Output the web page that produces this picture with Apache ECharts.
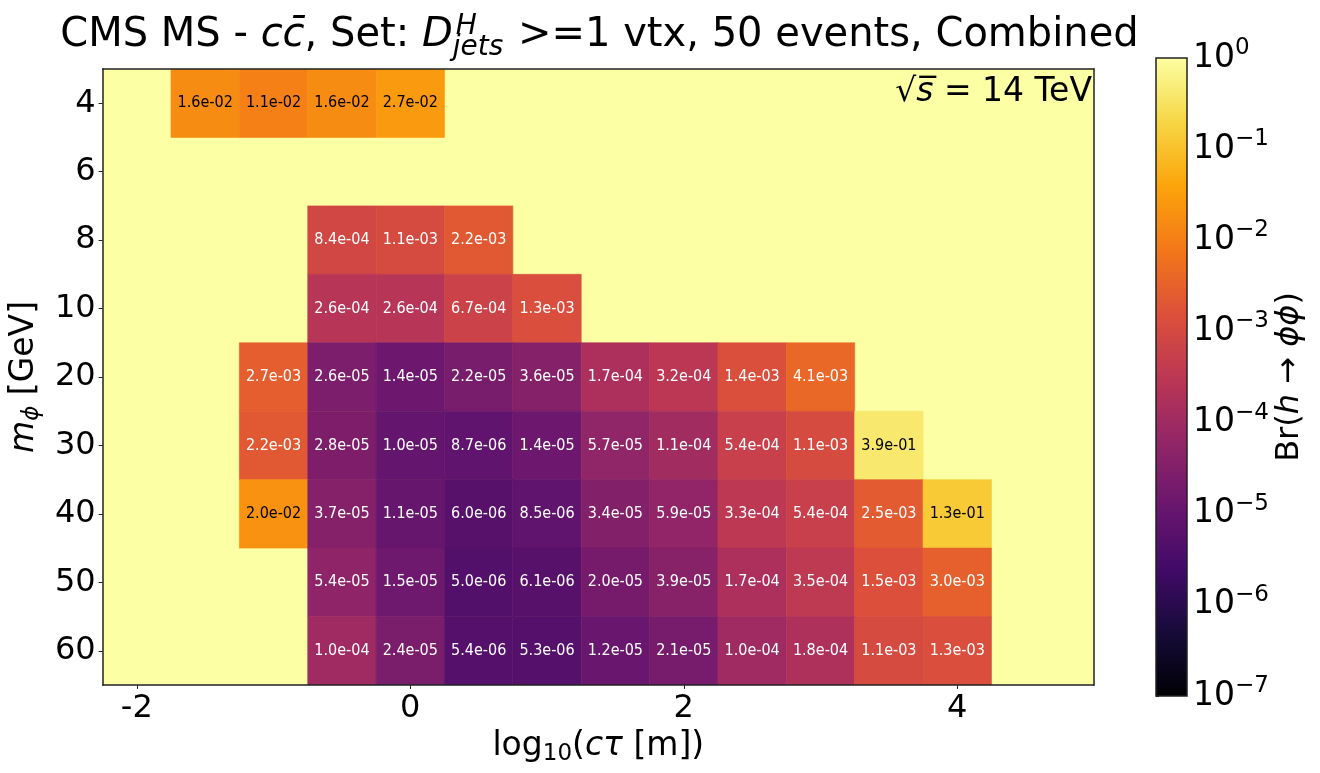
<!DOCTYPE html>
<html><head><meta charset="utf-8">
<script src="https://cdn.jsdelivr.net/npm/echarts@6/dist/echarts.min.js"></script>
<style>html,body{margin:0;padding:0;background:#fff}#c{width:1320px;height:773px}</style>
</head><body><div id="c"></div>
<script>
// ---- data ----
const massLabels = ['4','6','8','10','20','30','40','50','60'];
const ctauCenters = [-1.5,-1.0,-0.5,0,0.5,1.0,1.5,2.0,2.5,3.0,3.5,4.0];
const xTickValues = [-2,0,2,4];
const cbarExponents = [-7,-6,-5,-4,-3,-2,-1,0];
const br_m4  = [1.6e-2,1.1e-2,1.6e-2,2.7e-2,null,null,null,null,null,null,null,null];
const br_m6  = [null,null,null,null,null,null,null,null,null,null,null,null];
const br_m8  = [null,null,8.4e-4,1.1e-3,2.2e-3,null,null,null,null,null,null,null];
const br_m10 = [null,null,2.6e-4,2.6e-4,6.7e-4,1.3e-3,null,null,null,null,null,null];
const br_m20 = [null,2.7e-3,2.6e-5,1.4e-5,2.2e-5,3.6e-5,1.7e-4,3.2e-4,1.4e-3,4.1e-3,null,null];
const br_m30 = [null,2.2e-3,2.8e-5,1.0e-5,8.7e-6,1.4e-5,5.7e-5,1.1e-4,5.4e-4,1.1e-3,3.9e-1,null];
const br_m40 = [null,2.0e-2,3.7e-5,1.1e-5,6.0e-6,8.5e-6,3.4e-5,5.9e-5,3.3e-4,5.4e-4,2.5e-3,1.3e-1];
const br_m50 = [null,null,5.4e-5,1.5e-5,5.0e-6,6.1e-6,2.0e-5,3.9e-5,1.7e-4,3.5e-4,1.5e-3,3.0e-3];
const br_m60 = [null,null,1.0e-4,2.4e-5,5.4e-6,5.3e-6,1.2e-5,2.1e-5,1.0e-4,1.8e-4,1.1e-3,1.3e-3];
const brRows = [br_m4,br_m6,br_m8,br_m10,br_m20,br_m30,br_m40,br_m50,br_m60];

const inferno = ['#000004','#160b39','#420a68','#6a176e','#932667','#bc3754','#dd513a','#f37819','#fca50a','#f6d746','#fcffa4'];

const heatData = [];
brRows.forEach((row, yi) => row.forEach((v, xi) => {
  if (v != null) heatData.push([ctauCenters[xi], yi, Math.log10(v), v]);
}));

function fmt(v){
  let e = Math.floor(Math.log10(v) + 1e-9);
  let ms = (v / Math.pow(10, e)).toFixed(1);
  if (ms === '10.0') { ms = '1.0'; e++; }
  return ms + 'e' + (e < 0 ? '-' : '+') + String(Math.abs(e)).padStart(2, '0');
}

const FF = '"DejaVu Sans"';
const chart = echarts.init(document.getElementById('c'));

// text measurement for title layout
const mctx = document.createElement('canvas').getContext('2d');
function tw(t, size, it){ mctx.font = (it ? 'italic ' : '') + size + 'px ' + FF; return mctx.measureText(t).width; }

const TS = 40, SS = 28, titleY = 36;
const seg1 = [['CMS MS - ', false], ['cc\u0304', true], [', Set: ', false], ['D', true]];
const seg2 = ' >=1 vtx, 50 events, Combined';
const w1 = seg1.reduce((a, s) => a + tw(s[0], TS, s[1]), 0);
const wStack = Math.max(tw('H', SS, true) + 3, tw('jets', SS, true)) + 2;
const w2 = tw(seg2, TS, false);
const titleX0 = 599.5 - (w1 + wStack + w2) / 2;
const titleEls = [];
let cx = titleX0;
seg1.forEach(s => {
  titleEls.push({type:'text', x:cx, y:titleY, style:{text:s[0], font:(s[1]?'italic ':'') + TS + 'px ' + FF, fill:'#000', align:'left', verticalAlign:'middle'}});
  cx += tw(s[0], TS, s[1]);
});
titleEls.push({type:'text', x:cx + 3, y:titleY - 9, style:{text:'H', font:'italic ' + SS + 'px ' + FF, fill:'#000', align:'left', verticalAlign:'middle'}});
titleEls.push({type:'text', x:cx, y:titleY + 12, style:{text:'jets', font:'italic ' + SS + 'px ' + FF, fill:'#000', align:'left', verticalAlign:'middle'}});
cx += wStack;
titleEls.push({type:'text', x:cx, y:titleY, style:{text:seg2, font:TS + 'px ' + FF, fill:'#000', align:'left', verticalAlign:'middle'}});

titleEls.push({type:'text', x:1092, y:92, style:{
  text:'{n|\u221a}{i|s\u0305}{n| = 14 TeV}', align:'right', verticalAlign:'middle',
  rich:{n:{fontFamily:FF, fontSize:33, fill:'#000'}, i:{fontFamily:FF, fontSize:33, fontStyle:'italic', fill:'#000'}}
}});

const axisLineStyle = {color:'#222', width:1.5};

function renderHeat(params, api){
  const x = api.value(0), yi = api.value(1), lv = api.value(2), v = api.value(3);
  const a = api.coord([x - 0.25, yi]);
  const b = api.coord([x + 0.25, yi]);
  const h = api.size([1, 1], [x, yi])[1];
  const color = api.visual('color');
  const t = (lv + 7) / 7;
  return {type:'group', children:[
    {type:'rect', shape:{x:a[0], y:a[1] - h/2, width:b[0] - a[0], height:h}, style:{fill:color, stroke:color, lineWidth:0.6}},
    {type:'text', x:(a[0] + b[0]) / 2, y:a[1], z2:10, style:{text:fmt(v), fill:t > 0.7 ? '#000' : '#fff',
      font:'16px "DejaVu Sans Condensed", "DejaVu Sans"', align:'center', verticalAlign:'middle'}}
  ]};
}

function renderBar(params, api){
  const p0 = api.coord([0, 0]);
  const p1 = api.coord([1, -7]);
  const stops = inferno.map((c, i) => ({offset: 1 - i / (inferno.length - 1), color: c}));
  stops.reverse();
  return {type:'rect', shape:{x:p0[0], y:p0[1], width:p1[0] - p0[0], height:p1[1] - p0[1]},
    style:{fill:new echarts.graphic.LinearGradient(0, 0, 0, 1, stops), stroke:'#222', lineWidth:1.5}};
}

const option = {
  backgroundColor:'#fff',
  animation:false,
  graphic: titleEls,
  grid:[
    {left:102, right:226, top:69, bottom:88, show:true, backgroundColor:'#fcffa4', borderWidth:0},
    {left:1156, top:58, width:31, height:638, show:false}
  ],
  visualMap:{type:'continuous', show:false, seriesIndex:0, dimension:2, min:-7, max:0, inRange:{color:inferno}},
  xAxis:[
    {gridIndex:0, type:'value', min:-2.25, max:5, position:'bottom', z:5,
     axisLine:{show:true, onZero:false, lineStyle:axisLineStyle},
     axisTick:{show:true, customValues:xTickValues, length:4, lineStyle:{color:'#222', width:1}},
     axisLabel:{customValues:xTickValues, fontSize:32, color:'#000', fontFamily:FF, margin:8},
     splitLine:{show:false},
     name:'{n|log}{sub|10}{n|(}{i|c\u03c4}{n| [m])}', nameLocation:'middle', nameGap:37,
     nameTextStyle:{rich:{n:{fontFamily:FF, fontSize:33, color:'#000'}, i:{fontFamily:FF, fontSize:33, fontStyle:'italic', color:'#000'}, sub:{fontFamily:FF, fontSize:23, color:'#000', padding:[16,0,0,0]}}}},
    {gridIndex:0, type:'value', min:-2.25, max:5, position:'top', z:5,
     axisLine:{show:true, onZero:false, lineStyle:axisLineStyle}, axisTick:{show:false}, axisLabel:{show:false}, splitLine:{show:false}},
    {gridIndex:1, type:'value', min:0, max:1, show:false}
  ],
  yAxis:[
    {gridIndex:0, type:'category', data:massLabels, inverse:true, z:5,
     axisLine:{show:true, onZero:false, lineStyle:axisLineStyle},
     axisTick:{show:true, alignWithLabel:true, length:4, lineStyle:{color:'#222', width:1}},
     axisLabel:{fontSize:32, color:'#000', fontFamily:FF, margin:7},
     name:'{i|m}{sub|\u03d5}{n| [GeV]}', nameLocation:'middle', nameRotate:90, nameGap:53,
     nameTextStyle:{rich:{n:{fontFamily:FF, fontSize:33, color:'#000'}, i:{fontFamily:FF, fontSize:33, fontStyle:'italic', color:'#000'}, sub:{fontFamily:FF, fontSize:23, fontStyle:'italic', color:'#000', padding:[16,0,0,0]}}}},
    {gridIndex:0, type:'category', data:massLabels, inverse:true, position:'right', z:5,
     axisLine:{show:true, onZero:false, lineStyle:axisLineStyle}, axisTick:{show:false}, axisLabel:{show:false}},
    {gridIndex:1, type:'value', min:-7, max:0, interval:1, position:'right',
     axisLine:{show:false}, axisTick:{show:true, length:3, lineStyle:{color:'#222'}}, splitLine:{show:false},
     axisLabel:{margin:6, formatter:v => '{b|10}{s|' + (v === 0 ? '0' : '\u2212' + (-v)) + '}',
       rich:{b:{fontFamily:FF, fontSize:33, color:'#000'}, s:{fontFamily:FF, fontSize:23, color:'#000', padding:[0,0,20,0]}}},
     name:'{n|Br(}{i|h}{n| \u2192 }{i|\u03d5\u03d5}{n|)}', nameLocation:'middle', nameRotate:90, nameGap:87,
     nameTextStyle:{rich:{n:{fontFamily:FF, fontSize:32, color:'#000'}, i:{fontFamily:FF, fontSize:32, fontStyle:'italic', color:'#000'}}}}
  ],
  series:[
    {type:'custom', xAxisIndex:0, yAxisIndex:0, data:heatData, encode:{x:0, y:1}, renderItem:renderHeat, clip:true},
    {type:'custom', xAxisIndex:2, yAxisIndex:2, data:[[0, 0]], encode:{x:0, y:1}, renderItem:renderBar, silent:true}
  ]
};
chart.setOption(option);
</script></body></html>
